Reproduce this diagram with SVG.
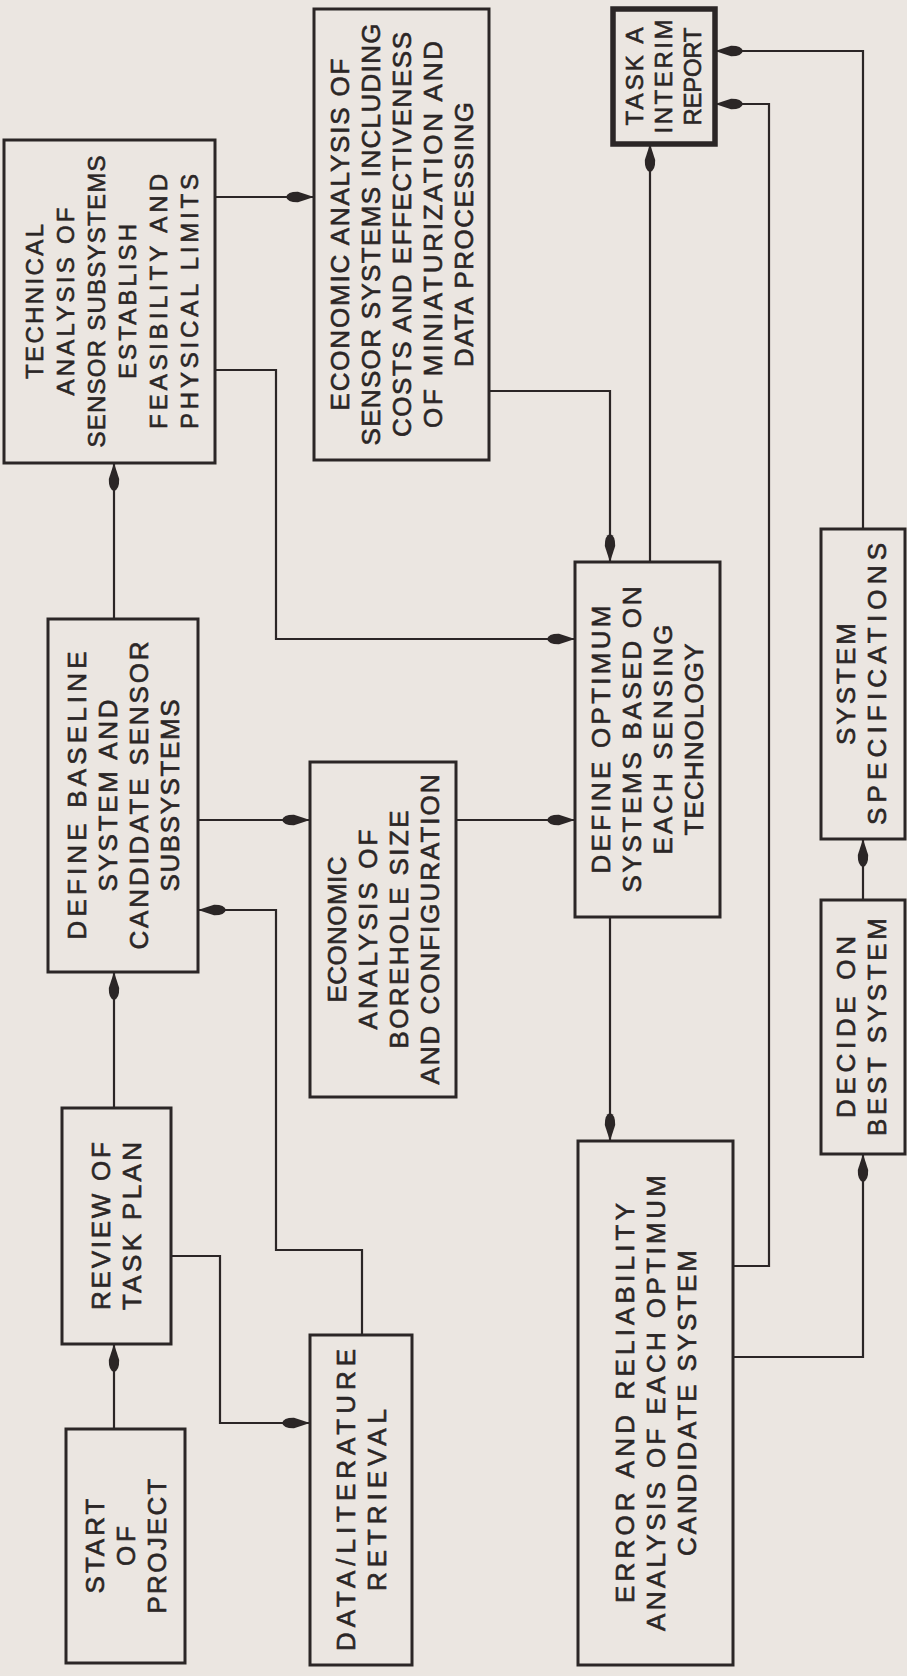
<svg xmlns="http://www.w3.org/2000/svg" width="907" height="1676" viewBox="0 0 907 1676">
<style>
.bg{fill:#ebe6e1}
.box{fill:#ebe6e1;stroke:#2b2626;stroke-width:3}
.thick{stroke-width:5.5}
.ln{fill:none;stroke:#2b2626;stroke-width:2.2;marker-end:url(#ah)}
text{font-family:"Liberation Sans",Arial,sans-serif;font-size:26px;fill:#2b2626;stroke:#2b2626;stroke-width:0.6;text-anchor:middle}
.sm{font-size:24px}
</style>
<defs>
<marker id="ah" markerUnits="userSpaceOnUse" markerWidth="30" markerHeight="14" refX="28" refY="7" orient="auto">
<path d="M28,7 L12,1.8 Q1.5,1.6 0,7 Q1.5,12.4 12,12.2 Z" fill="#2b2626"/>
</marker>
</defs>
<rect class="bg" x="0" y="0" width="907" height="1676"/>
<g id="connectors">
<path class="ln" d="M114,1429 V1344"/>
<path class="ln" d="M171,1256 H220 V1423 H310"/>
<path class="ln" d="M362,1335 V1250 H276 V910 H198"/>
<path class="ln" d="M114,1108 V972"/>
<path class="ln" d="M114,619 V463"/>
<path class="ln" d="M215,197 H314"/>
<path class="ln" d="M215,370 H276 V639 H575"/>
<path class="ln" d="M489,391 H610 V562"/>
<path class="ln" d="M198,820 H310"/>
<path class="ln" d="M456,820 H575"/>
<path class="ln" d="M650,562 V144"/>
<path class="ln" d="M610,917 V1141"/>
<path class="ln" d="M733,1266 H769 V104 H715"/>
<path class="ln" d="M733,1357 H863 V1154"/>
<path class="ln" d="M863,900 V839"/>
<path class="ln" d="M863,529 V51 H715"/>
</g>
<g id="start">
<rect class="box" x="66" y="1429" width="119" height="234"/>
<g transform="translate(125.5,1546) rotate(-90)">
<text x="0" y="-22" textLength="95">START</text>
<text x="0" y="9" textLength="40">OF</text>
<text x="0" y="40" textLength="135">PROJECT</text>
</g>
</g>
<g id="review">
<rect class="box" x="62" y="1108" width="109" height="236"/>
<g transform="translate(116.5,1226) rotate(-90)">
<text x="0" y="-6.5" textLength="168">REVIEW OF</text>
<text x="0" y="24.5" textLength="168">TASK PLAN</text>
</g>
</g>
<g id="data">
<rect class="box" x="310" y="1335" width="102" height="330"/>
<g transform="translate(361,1500) rotate(-90)">
<text x="0" y="-6.5" textLength="302">DATA/LITERATURE</text>
<text x="0" y="24.5" textLength="182">RETRIEVAL</text>
</g>
</g>
<g id="baseline">
<rect class="box" x="48" y="619" width="150" height="353"/>
<g transform="translate(123,795.5) rotate(-90)">
<text x="0" y="-37.5" textLength="288">DEFINE BASELINE</text>
<text x="0" y="-6.5" textLength="192">SYSTEM AND</text>
<text x="0" y="24.5" textLength="308">CANDIDATE SENSOR</text>
<text x="0" y="55.5" textLength="192">SUBSYSTEMS</text>
</g>
</g>
<g id="borehole">
<rect class="box" x="310" y="762" width="146" height="335"/>
<g transform="translate(383,929.5) rotate(-90)">
<text x="0" y="-37.5" textLength="146">ECONOMIC</text>
<text x="0" y="-6.5" textLength="200">ANALYSIS OF</text>
<text x="0" y="24.5" textLength="238">BOREHOLE SIZE</text>
<text x="0" y="55.5" textLength="310">AND CONFIGURATION</text>
</g>
</g>
<g id="technical">
<rect class="box" x="4" y="140" width="211" height="323"/>
<g transform="translate(111,301.5) rotate(-90)">
<text class="sm" x="0" y="-68.5" textLength="155">TECHNICAL</text>
<text class="sm" x="0" y="-37.5" textLength="188">ANALYSIS OF</text>
<text class="sm" x="0" y="-6.5" textLength="292">SENSOR SUBSYSTEMS</text>
<text class="sm" x="0" y="24.5" textLength="155">ESTABLISH</text>
<text class="sm" x="0" y="55.5" textLength="255">FEASIBILITY AND</text>
<text class="sm" x="0" y="86.5" textLength="255">PHYSICAL LIMITS</text>
</g>
</g>
<g id="econsensor">
<rect class="box" x="314" y="9" width="175" height="451"/>
<g transform="translate(401.5,234.5) rotate(-90)">
<text x="0" y="-53" textLength="352">ECONOMIC ANALYSIS OF</text>
<text x="0" y="-22" textLength="422">SENSOR SYSTEMS INCLUDING</text>
<text x="0" y="9" textLength="405">COSTS AND EFFECTIVENESS</text>
<text x="0" y="40" textLength="387">OF MINIATURIZATION AND</text>
<text x="0" y="71" textLength="265">DATA PROCESSING</text>
</g>
</g>
<g id="optimum">
<rect class="box" x="575" y="562" width="145" height="355"/>
<g transform="translate(647.5,739.5) rotate(-90)">
<text x="0" y="-37.5" textLength="268">DEFINE OPTIMUM</text>
<text x="0" y="-6.5" textLength="306">SYSTEMS BASED ON</text>
<text x="0" y="24.5" textLength="230">EACH SENSING</text>
<text x="0" y="55.5" textLength="192">TECHNOLOGY</text>
</g>
</g>
<g id="error">
<rect class="box" x="578" y="1141" width="155" height="524"/>
<g transform="translate(655.5,1403) rotate(-90)">
<text x="0" y="-22" textLength="400">ERROR AND RELIABILITY</text>
<text x="0" y="9" textLength="456">ANALYSIS OF EACH OPTIMUM</text>
<text x="0" y="40" textLength="306">CANDIDATE SYSTEM</text>
</g>
</g>
<g id="taska">
<rect class="box thick" x="613" y="9" width="102" height="135"/>
<g transform="translate(664,76.5) rotate(-90)">
<text class="sm" x="0" y="-21" textLength="98">TASK A</text>
<text class="sm" x="0" y="8" textLength="114">INTERIM</text>
<text class="sm" x="0" y="37" textLength="98">REPORT</text>
</g>
</g>
<g id="spec">
<rect class="box" x="821" y="529" width="84" height="310"/>
<g transform="translate(861,684) rotate(-90)">
<text x="0" y="-6.5" textLength="122">SYSTEM</text>
<text x="0" y="24.5" textLength="282">SPECIFICATIONS</text>
</g>
</g>
<g id="decide">
<rect class="box" x="821" y="900" width="84" height="254"/>
<g transform="translate(861,1027) rotate(-90)">
<text x="0" y="-6.5" textLength="182">DECIDE ON</text>
<text x="0" y="24.5" textLength="218">BEST SYSTEM</text>
</g>
</g>
</svg>
